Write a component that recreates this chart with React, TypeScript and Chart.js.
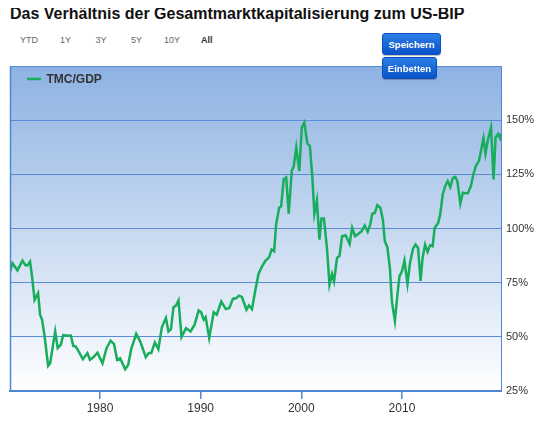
import React, { useEffect, useRef } from "react";
import { Chart, registerables } from "chart.js";

Chart.register(...registerables);

const TITLE = "Das Verhältnis der Gesamtmarktkapitalisierung zum US-BIP";
const RANGE_LABELS = ["YTD", "1Y", "3Y", "5Y", "10Y", "All"];
const SERIES_LABEL = "TMC/GDP";
const X_TICKS = [1980, 1990, 2000, 2010];
const Y_MIN = 25;
const Y_MAX = 175;
const Y_STEP = 25;
const X_MIN = 1971.06;
const X_MAX = 2019.84;

const years = [
  1971.06, 1971.3, 1971.8, 1972.3, 1972.6, 1972.8, 1973.05, 1973.25, 1973.5, 1973.85,
  1974.05, 1974.25, 1974.5, 1974.85, 1975.05, 1975.55, 1975.8, 1976.1, 1976.35, 1976.75,
  1977.1, 1977.35, 1977.6, 1977.95, 1978.3, 1978.75, 1979.0, 1979.35, 1979.75, 1980.25,
  1980.65, 1981.05, 1981.4, 1981.7, 1982.0, 1982.5, 1982.8, 1983.1, 1983.6, 1984.0,
  1984.55, 1984.85, 1985.1, 1985.45, 1985.8, 1986.15, 1986.55, 1986.8, 1987.05, 1987.3,
  1987.55, 1987.8, 1988.1, 1988.55, 1989.0, 1989.4, 1989.8, 1990.05, 1990.3, 1990.5,
  1990.85, 1991.3, 1991.6, 1992.05, 1992.5, 1992.85, 1993.2, 1993.55, 1993.8, 1994.1,
  1994.55, 1994.8, 1995.1, 1995.45, 1995.75, 1996.1, 1996.45, 1996.8, 1997.05, 1997.3,
  1997.5, 1997.8, 1998.0, 1998.25, 1998.5, 1998.75, 1999.05, 1999.25, 1999.5, 1999.8,
  2000.05, 2000.3, 2000.6, 2000.85, 2001.1, 2001.3, 2001.55, 2001.8, 2002.0, 2002.25,
  2002.55, 2002.8, 2003.05, 2003.25, 2003.55, 2003.8, 2004.05, 2004.4, 2004.8, 2005.05,
  2005.35, 2005.65, 2006.0, 2006.3, 2006.6, 2006.85, 2007.05, 2007.3, 2007.55, 2007.85,
  2008.1, 2008.3, 2008.55, 2008.8, 2009.0, 2009.3, 2009.55, 2009.75, 2010.0, 2010.25,
  2010.55, 2010.8, 2011.1, 2011.35, 2011.6, 2011.85, 2012.05, 2012.3, 2012.55, 2012.8,
  2013.05, 2013.25, 2013.6, 2013.8, 2014.05, 2014.3, 2014.55, 2014.8, 2015.05, 2015.3,
  2015.5, 2015.8, 2016.05, 2016.3, 2016.55, 2016.85, 2017.1, 2017.35, 2017.65, 2017.85,
  2018.1, 2018.3, 2018.55, 2018.85, 2019.1, 2019.3, 2019.55, 2019.75, 2019.84,
];

const tmcGdp = [
  80, 84, 80.7, 85.2, 83, 83, 84.7, 77.9, 67.1, 70.2,
  60.2, 57.9, 50.1, 36.6, 37.8, 52.5, 44.8, 46.3, 50.9, 50.5,
  50.6, 45.8, 45.5, 42.7, 39.7, 42.5, 39.4, 40.6, 42.7, 37.8,
  44.8, 48.2, 46.6, 39.4, 40.1, 35.0, 37.0, 44.3, 51.4, 47.8,
  40.6, 42.5, 42.5, 47.4, 44.3, 54.5, 58.7, 52.5, 53.6, 63.7,
  64.4, 66.8, 49.9, 54.0, 52.5, 55.6, 62.2, 61.3, 57.9, 59.1,
  49.4, 61.3, 60.2, 66.3, 62.8, 63.3, 67.5, 67.9, 69.0, 68.4,
  62.5, 64.5, 62.8, 72.0, 79.0, 82.5, 85.2, 86.7, 90.3, 89.5,
  101.9, 109.6, 110.3, 122.7, 123.5, 106.8, 126.5, 128.9, 137.4, 126.5,
  146.6, 148.9, 139.2, 138.1, 123.5, 106.8, 113.0, 94.9, 104.6, 104.6,
  91.0, 74.1, 79.0, 75.6, 86.4, 87.4, 96.4, 96.9, 92.9, 100.3,
  96.4, 97.5, 98.8, 101.4, 98.5, 101.9, 106.8, 107.2, 110.8, 109.6,
  104.2, 94.1, 91.3, 81.8, 66.3, 57.4, 69.4, 77.9, 80.2, 85.2,
  74.4, 84.1, 90.7, 92.6, 91.0, 75.8, 86.4, 92.6, 89.2, 92.3,
  91.8, 100.3, 102.6, 106.5, 115.7, 119.6, 121.9, 119.1, 123.2, 123.8,
  121.9, 111.5, 116.5, 116.3, 116.3, 119.6, 125.0, 128.9, 131.2, 135.8,
  141.7, 134.6, 141.2, 146.6, 122.7, 142.0, 143.6, 141.7, 144,
];

const FONT = '"Liberation Sans", Arial, Helvetica, sans-serif';
const AXIS_BLUE = "#4f86d6";
const GRID_BLUE = "#5a8cd8";
const LINE_GREEN = "#17ad5b";

const plotDecor = {
  id: "plotDecor",
  beforeDraw(chart: any) {
    const { ctx, chartArea } = chart;
    const { left, top, right, bottom } = chartArea;
    const g = ctx.createLinearGradient(0, top, 0, bottom);
    g.addColorStop(0, "#8db2e2");
    g.addColorStop(1, "#ffffff");
    ctx.save();
    ctx.fillStyle = g;
    ctx.fillRect(left, top, right - left, bottom - top);
    ctx.restore();
  },
  afterDraw(chart: any) {
    const { ctx, chartArea } = chart;
    const { left, top, bottom } = chartArea;
    ctx.save();
    ctx.strokeStyle = AXIS_BLUE;
    ctx.lineWidth = 1.5;
    ctx.beginPath();
    ctx.moveTo(left + 0.5, top);
    ctx.lineTo(left + 0.5, bottom);
    ctx.stroke();
    // legend
    const ds = chart.data.datasets[0];
    const ly = top + 13;
    ctx.strokeStyle = ds.borderColor;
    ctx.lineWidth = 2.5;
    ctx.beginPath();
    ctx.moveTo(left + 17, ly);
    ctx.lineTo(left + 31, ly);
    ctx.stroke();
    ctx.fillStyle = "#333333";
    ctx.font = `bold 12px ${FONT}`;
    ctx.textBaseline = "middle";
    ctx.textAlign = "left";
    ctx.fillText(ds.label, left + 36.5, ly + 0.5);
    ctx.restore();
  },
};

function ChartCanvas() {
  const ref = useRef<HTMLCanvasElement | null>(null);
  useEffect(() => {
    if (!ref.current) return;
    Chart.defaults.font.family = FONT;
    const points = years.map((x, i) => ({ x, y: tmcGdp[i] }));
    const chart = new Chart(ref.current, {
      type: "line",
      data: {
        datasets: [
          {
            label: SERIES_LABEL,
            data: points,
            borderColor: LINE_GREEN,
            borderWidth: 2.5,
            pointRadius: 0,
            tension: 0,
            fill: false,
          },
        ],
      },
      options: {
        animation: false,
        responsive: false,
        devicePixelRatio: 1,
        layout: { padding: { left: 10, top: 8, right: 0, bottom: 0 } },
        scales: {
          x: {
            type: "linear",
            min: X_MIN,
            max: X_MAX,
            afterBuildTicks: (s: any) => {
              s.ticks = X_TICKS.map((v) => ({ value: v }));
            },
            afterFit: (s: any) => {
              s.height = 44;
              s.paddingLeft = 0;
              s.paddingRight = 0;
            },
            ticks: {
              callback: (v: any) => String(v),
              font: { size: 12 },
              color: "#333333",
              padding: 2,
              maxRotation: 0,
              autoSkip: false,
            },
            grid: {
              drawOnChartArea: false,
              drawTicks: true,
              tickLength: 8,
              color: AXIS_BLUE,
              lineWidth: 1.5,
            },
            border: { display: true, color: AXIS_BLUE, width: 2 },
          },
          y: {
            position: "right",
            min: Y_MIN,
            max: Y_MAX,
            afterFit: (s: any) => {
              s.width = 45;
              s.paddingTop = 0;
              s.paddingBottom = 0;
            },
            ticks: {
              stepSize: Y_STEP,
              callback: (v: any) => (v === Y_MAX ? "" : `${v}%`),
              font: { size: 11 },
              color: "#333333",
              padding: 5,
            },
            grid: { color: GRID_BLUE, lineWidth: 1, drawTicks: false },
            border: { display: true, color: AXIS_BLUE, width: 1 },
          },
        },
        plugins: {
          legend: { display: false },
          tooltip: { enabled: false },
        },
      },
      plugins: [plotDecor],
    } as any);
    return () => chart.destroy();
  }, []);
  return (
    <canvas
      ref={ref}
      width={546}
      height={377}
      style={{ width: 546, height: 377, display: "block" }}
    />
  );
}

const rangeLeft = [12, 52, 87.5, 123, 156, 193];

const btnStyle: React.CSSProperties = {
  position: "absolute",
  left: 374,
  height: 22,
  borderRadius: 3,
  border: "1px solid #0c4fc0",
  background: "linear-gradient(#2b7fe6, #0a52c9)",
  color: "#ffffff",
  fontWeight: "bold",
  fontSize: 9.5,
  fontFamily: FONT,
  display: "flex",
  alignItems: "center",
  justifyContent: "center",
  boxSizing: "border-box",
  boxShadow: "0 1px 1px rgba(0,0,0,0.25)",
  zIndex: 2,
};

export default function App() {
  return (
    <div style={{ position: "relative", width: 530, height: 419, fontFamily: FONT }}>
      <div
        style={{
          position: "absolute",
          left: 2,
          top: -3,
          fontSize: 16,
          fontWeight: "bold",
          color: "#111111",
          whiteSpace: "nowrap",
        }}
      >
        {TITLE}
      </div>
      {RANGE_LABELS.map((r, i) => (
        <span
          key={r}
          style={{
            position: "absolute",
            left: rangeLeft[i],
            top: 27,
            fontSize: 9,
            lineHeight: "10px",
            color: r === "All" ? "#333333" : "#666666",
            fontWeight: r === "All" ? "bold" : "normal",
          }}
        >
          {r}
        </span>
      ))}
      <div style={{ ...btnStyle, top: 25, width: 59 }}>Speichern</div>
      <div style={{ ...btnStyle, top: 49, width: 55 }}>Einbetten</div>
      <div style={{ position: "absolute", left: -8, top: 50, width: 546, height: 377 }}>
        <ChartCanvas />
      </div>
    </div>
  );
}
